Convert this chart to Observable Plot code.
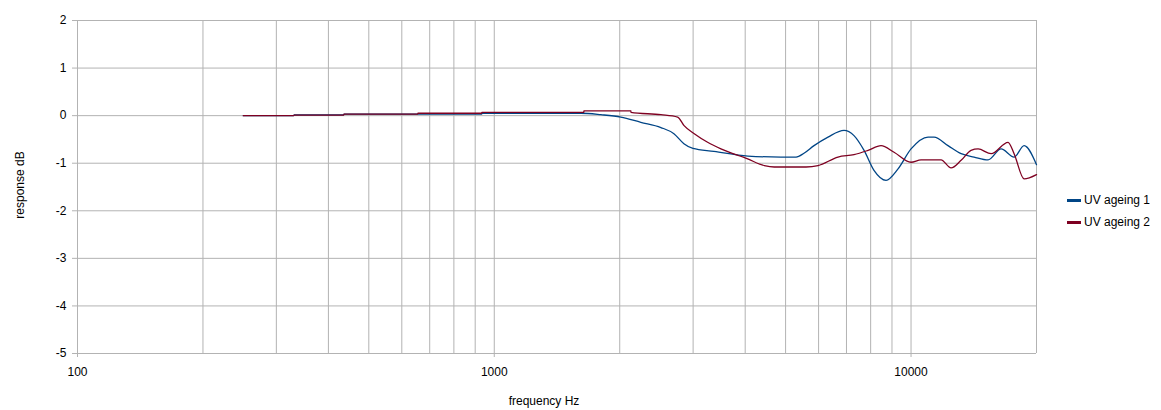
<!DOCTYPE html>
<html>
<head>
<meta charset="utf-8">
<script src="https://cdn.jsdelivr.net/npm/d3@7"></script>
<script src="https://cdn.jsdelivr.net/npm/@observablehq/plot@0.6"></script>
<style>
  html, body { margin: 0; padding: 0; background: #fff; }
  #wrap { position: relative; width: 1161px; height: 410px; overflow: hidden; font-family: "Liberation Sans", Arial, sans-serif; }
  #wrap svg { display: block; }
  .leg { position: absolute; left: 1067px; font-size: 12px; color: #000; display: flex; align-items: center; }
  .sw { width: 14px; height: 3px; margin-right: 3px; }
  .title { position: absolute; font-size: 12px; line-height: 14px; color: #000; white-space: nowrap; }
</style>
</head>
<body>
<div id="wrap"></div>
<script>
// Series: frequency (Hz) and response (dB)
const freq1 = [250, 330, 331, 435, 436, 933, 934, 1613, 1802, 2012, 2247, 2511, 2698, 2851, 2997, 3365, 4061, 4875, 5300, 5535, 5851, 6321, 6905, 7297, 7714, 8149, 8710, 9307, 10000, 10985, 11356, 12266, 13187, 14168, 15305, 16446, 17672, 18677, 20000];
const resp1 = [0, 0, 0.015, 0.015, 0.03, 0.03, 0.05, 0.05, 0.02, -0.03, -0.14, -0.25, -0.38, -0.59, -0.69, -0.75, -0.85, -0.87, -0.87, -0.79, -0.63, -0.45, -0.31, -0.42, -0.73, -1.15, -1.36, -1.12, -0.70, -0.45, -0.45, -0.63, -0.80, -0.87, -0.93, -0.70, -0.87, -0.63, -1.03];
const freq2 = [250, 330, 331, 435, 436, 655, 656, 933, 934, 1640, 1641, 2127, 2128, 2511, 2754, 2854, 3019, 3250, 3498, 4055, 4446, 4697, 5200, 5600, 5981, 6680, 7297, 7885, 8472, 9104, 10000, 10568, 11803, 12474, 13187, 13931, 14484, 15566, 17092, 17672, 18677, 20000];
const resp2 = [0, 0, 0.01, 0.01, 0.03, 0.03, 0.05, 0.05, 0.07, 0.07, 0.1, 0.1, 0.07, 0.02, -0.03, -0.21, -0.38, -0.56, -0.70, -0.91, -1.05, -1.08, -1.08, -1.08, -1.05, -0.87, -0.82, -0.73, -0.63, -0.77, -0.98, -0.93, -0.93, -1.10, -0.94, -0.73, -0.70, -0.80, -0.56, -0.80, -1.33, -1.24];
const seriesNames = ["UV ageing 1", "UV ageing 2"];
const seriesColors = ["#004586", "#7e0021"];
const yTicks = [-5, -4, -3, -2, -1, 0, 1, 2];
const xMajor = [100, 1000, 10000];
const xGrid = [100, 200, 300, 400, 500, 600, 700, 800, 900, 1000, 2000, 3000, 4000, 5000, 6000, 7000, 8000, 9000, 10000, 20000];
const xTitle = "frequency Hz";
const yTitle = "response dB";

const d1 = freq1.map((f, i) => ({f, v: resp1[i]}));
const d2 = freq2.map((f, i) => ({f, v: resp2[i]}));
const grid = "#b3b3b3";

const chart = Plot.plot({
  width: 1161,
  height: 410,
  marginLeft: 77,
  marginRight: 125,
  marginTop: 20,
  marginBottom: 57,
  style: { fontFamily: "Liberation Sans, Arial, sans-serif", fontSize: "12px", color: "#000", background: "#fff" },
  x: { type: "log", domain: [100, 20000] },
  y: { domain: [-5, 2] },
  marks: [
    Plot.ruleX(xGrid, { x: d => d, stroke: grid, strokeWidth: 1 }),
    Plot.ruleY(yTicks, { y: d => d, stroke: grid, strokeWidth: 1 }),
    Plot.axisX({ ticks: xMajor, tickFormat: d => String(d), tickSize: 4, tickPadding: 10, stroke: grid, label: null, fill: "#000" }),
    Plot.axisY({ ticks: yTicks, tickFormat: d => String(d), tickSize: 5, tickPadding: 6, stroke: grid, label: null, fill: "#000" }),
    Plot.line(d1, { x: "f", y: "v", stroke: seriesColors[0], strokeWidth: 1.3, curve: "monotone-x" }),
    Plot.line(d2, { x: "f", y: "v", stroke: seriesColors[1], strokeWidth: 1.3, curve: "monotone-x" })
  ]
});
const wrap = document.getElementById("wrap");
wrap.appendChild(chart);
seriesNames.forEach((n, i) => {
  const el = document.createElement("div");
  el.className = "leg";
  el.style.top = (193 + i * 22) + "px";
  el.innerHTML = `<span class="sw" style="background:${seriesColors[i]}"></span><span>${n}</span>`;
  wrap.appendChild(el);
});
const xt = document.createElement("div");
xt.className = "title";
xt.textContent = xTitle;
xt.style.left = "544px";
xt.style.top = "394px";
xt.style.transform = "translateX(-50%)";
wrap.appendChild(xt);
const yt = document.createElement("div");
yt.className = "title";
yt.textContent = yTitle;
yt.style.left = "20px";
yt.style.top = "185px";
yt.style.transform = "translate(-50%, -50%) rotate(-90deg)";
wrap.appendChild(yt);
</script>
</body>
</html>
